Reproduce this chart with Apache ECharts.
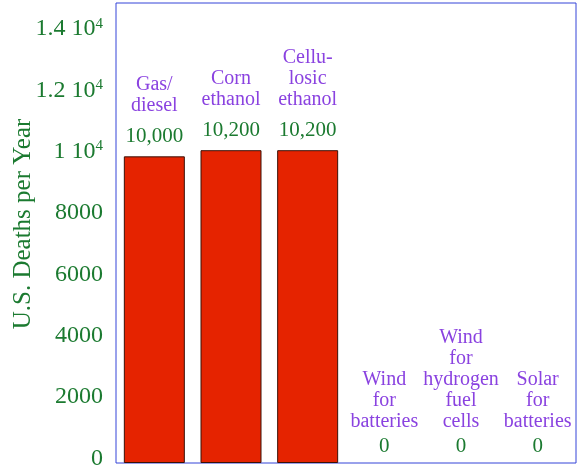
<!DOCTYPE html>
<html>
<head>
<meta charset="utf-8">
<script src="https://cdn.jsdelivr.net/npm/echarts@6/dist/echarts.min.js"></script>
<style>
html,body{margin:0;padding:0;background:#fff;}
#chartmain{width:582px;height:471px;}
</style>
</head>
<body>
<div id="chartmain"></div>
<script>
var categories=['Gas/\ndiesel','Corn\nethanol','Cellu-\nlosic\nethanol','Wind\nfor\nbatteries','Wind\nfor\nhydrogen\nfuel\ncells','Solar\nfor\nbatteries'];
var deaths=[10000,10200,10200,0,0,0];
var deathLabels=['10,000','10,200','10,200','0','0','0'];
var yTicks=[0,2000,4000,6000,8000,10000,12000,14000];
var yTickLabels=['0','2000','4000','6000','8000','1 10^4','1.2 10^4','1.4 10^4'];

var green='#1b7a30';
var purple='#8a42e0';
var serif='Liberation Serif';

function nameText(name,label,zero) {
	var lines=name.split('\n').map(function(s){return '{n|'+s+'}';});
	return lines.join('\n')+'\n{'+(zero?'z':'v')+'|'+label+'}';
}

var barData=[];
for(var i=0;i<deaths.length;i++) {
	var zero=deaths[i]==0;
	barData.push({
		value:deaths[i],
		itemStyle:zero?{borderWidth:0}:{},
		label:{
			distance:zero?2:0,
			formatter:nameText(categories[i],deathLabels[i],zero)
		}
	});
}

var myChart=echarts.init(document.getElementById('chartmain'));
var option={
	animation:false,
	grid:{
		left:116,right:6,top:3,bottom:8,
		show:true,
		borderColor:'#3444d8',
		borderWidth:1,
		containLabel:false,
		outerBoundsMode:'none'
	},
	xAxis:{
		type:'category',
		data:categories,
		axisLine:{show:false},
		axisTick:{show:false},
		axisLabel:{show:false},
		splitLine:{show:false}
	},
	yAxis:{
		type:'value',
		min:0,max:15000,interval:2000,
		name:'U.S. Deaths per Year',
		nameLocation:'middle',
		nameGap:80,
		nameMoveOverlap:false,
		nameTextStyle:{color:green,fontFamily:serif,fontSize:25,padding:[0,0,0,18]},
		axisLine:{show:false},
		axisTick:{show:false},
		splitLine:{show:false},
		axisLabel:{
			margin:13,
			padding:[0,0,9,0],
			formatter:function(value) {
				var idx=yTicks.indexOf(value);
				if(idx<0) return '';
				var parts=yTickLabels[idx].split('^');
				var res='{m|'+parts[0]+'}';
				if(parts.length>1) res+='{s|'+parts[1]+'}';
				return res;
			},
			rich:{
				m:{color:green,fontFamily:serif,fontSize:24,lineHeight:26},
				s:{color:green,fontFamily:serif,fontSize:15,lineHeight:26,verticalAlign:'top'}
			}
		}
	},
	series:[{
		type:'bar',
		barWidth:61,
		data:barData,
		itemStyle:{color:'#e52300',borderColor:'#3a1208',borderWidth:1},
		label:{
			show:true,
			position:'top',
			align:'center',
			rich:{
				n:{color:purple,fontFamily:serif,fontSize:20,lineHeight:21,align:'center'},
				v:{color:green,fontFamily:serif,fontSize:21,lineHeight:40,align:'center'},
				z:{color:green,fontFamily:serif,fontSize:21,lineHeight:29,align:'center'}
			}
		}
	}]
};
myChart.setOption(option);
</script>
</body>
</html>
